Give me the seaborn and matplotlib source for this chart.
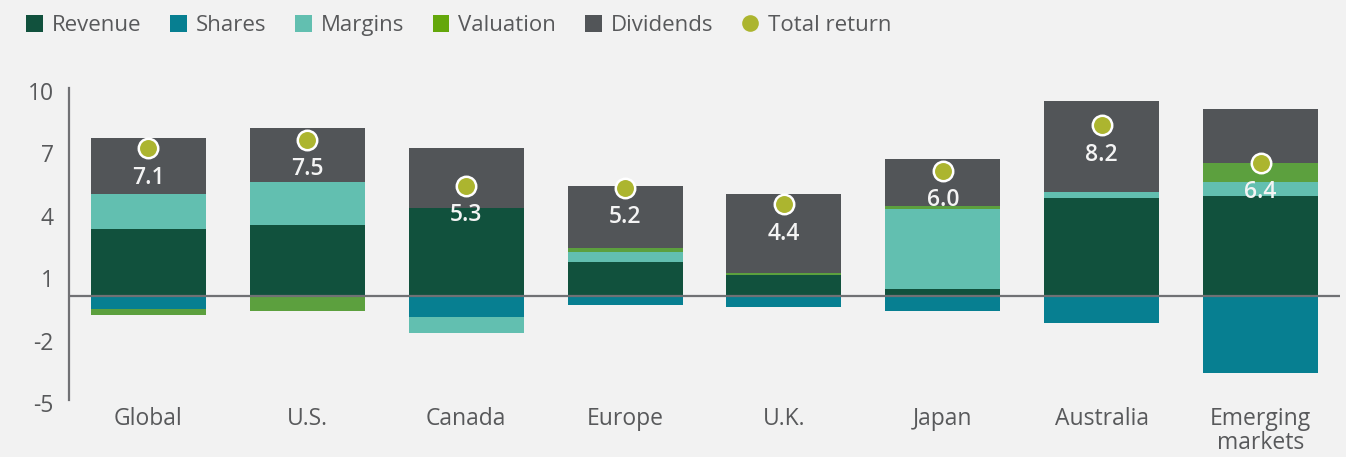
import matplotlib.pyplot as plt
from matplotlib.patches import Patch
from matplotlib.lines import Line2D
from matplotlib.transforms import ScaledTranslation
import pandas as pd
import seaborn as sb

# data (percent)
regions = ['Global', 'U.S.', 'Canada', 'Europe', 'U.K.', 'Japan', 'Australia', 'Emerging\nmarkets']
revenue = [3.22, 3.41, 4.23, 1.63, 1.00, 0.34, 4.71, 4.81]
shares = [-0.63, 0.00, -1.01, -0.42, -0.51, -0.70, -1.28, -3.69]
margins = [1.68, 2.07, -0.75, 0.48, 0.00, 3.85, 0.29, 0.67]
valuation = [-0.29, -0.71, 0.00, 0.19, 0.10, 0.14, 0.00, 0.91]
dividends = [2.70, 2.60, 2.88, 2.98, 3.80, 2.26, 4.38, 2.60]
total_return = [7.1, 7.5, 5.3, 5.2, 4.4, 6.0, 8.2, 6.4]
yticks = [10, 7, 4, 1, -2, -5]

series_names = ['Revenue', 'Shares', 'Margins', 'Valuation', 'Dividends']
series_vals = [revenue, shares, margins, valuation, dividends]
colors = ['#11513d', '#077f91', '#62bfb0', '#5ca03e', '#525558']
legend_colors = ['#11513d', '#077f91', '#62bfb0', '#64a70b', '#525558']
dot_color = '#acb52f'
bg = '#f2f2f2'
txt = '#58595b'

sb.set_theme(style='white')
plt.rcParams['font.family'] = ['Open Sans', 'DejaVu Sans']
plt.rcParams['axes.unicode_minus'] = False

fig = plt.figure(figsize=(13.46, 4.57), dpi=100, facecolor=bg)
ax = fig.add_axes([0.0513, 0.1247, 0.9442, 0.6827])
ax.set_facecolor(bg)

# cumulative stacks, positive and negative parts separately
pos_cum = []
neg_cum = []
run_p = [0.0] * len(regions)
run_n = [0.0] * len(regions)
for vals in series_vals:
    run_p = [a + max(v, 0) for a, v in zip(run_p, vals)]
    run_n = [a + min(v, 0) for a, v in zip(run_n, vals)]
    pos_cum.append(run_p)
    neg_cum.append(run_n)

# draw tallest first, overlay the lower segments
for k in range(len(series_vals) - 1, -1, -1):
    for cum in (pos_cum[k], neg_cum[k]):
        sb.barplot(x=regions, y=cum, color=colors[k], saturation=1, width=0.724,
                   errorbar=None, linewidth=0, ax=ax)

sb.stripplot(x=regions, y=total_return, jitter=False, size=14, color=dot_color,
             edgecolor='white', linewidth=1.8, ax=ax, zorder=5)

for i, t in enumerate(total_return):
    ax.annotate(f'{t:.1f}', (i, t), xytext=(0, -21), textcoords='offset points',
                ha='center', va='center', color='#f4f4f4', fontsize=16.5,
                fontweight='semibold', zorder=6)

ax.axhline(0, color='#707174', lw=1.6, zorder=4)
ax.set_xlim(-0.5, 7.5)
ax.set_ylim(-5, 10)
ax.set_yticks(yticks)
ax.set_xlabel('')
ax.set_ylabel('')
for s in ['top', 'right', 'bottom']:
    ax.spines[s].set_visible(False)
ax.spines['left'].set_color('#707174')
ax.spines['left'].set_linewidth(1.6)
ax.tick_params(axis='y', length=0, pad=11, labelsize=16.5, labelcolor=txt)
ax.tick_params(axis='x', length=0, pad=5, labelsize=16.5, labelcolor=txt)
for lab in ax.get_xticklabels():
    lab.set_linespacing(1.0)

# y labels sit a little low in the original
shift = ScaledTranslation(0, -3 / 100, fig.dpi_scale_trans)
for lab in ax.get_yticklabels():
    lab.set_transform(lab.get_transform() + shift)

handles = [Patch(facecolor=c, edgecolor='none') for c in legend_colors]
handles.append(Line2D([], [], marker='o', linestyle='none', markersize=12,
                      markerfacecolor=dot_color, markeredgecolor='none'))
labels = series_names + ['Total return']
fig.legend(handles, labels, loc='center left', bbox_to_anchor=(0.0193, 0.945),
           ncol=6, frameon=False, fontsize=16, labelcolor=txt, borderpad=0,
           borderaxespad=0, handlelength=0.75, handleheight=0.8,
           handletextpad=0.4, columnspacing=1.3)

fig.savefig('out.png', dpi=100, facecolor=bg)
